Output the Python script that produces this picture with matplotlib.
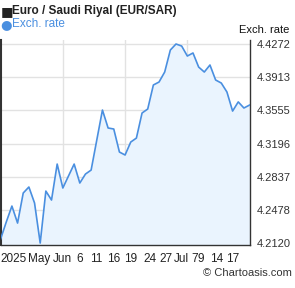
import numpy as np
import matplotlib
matplotlib.use("Agg")
import matplotlib.pyplot as plt

# EUR/SAR daily rates
rates = [4.2163, 4.2347, 4.2520, 4.2336, 4.2661, 4.2726, 4.2553, 4.2120, 4.2682, 4.2585,
         4.2974, 4.2715, 4.2845, 4.2974, 4.2769, 4.2866, 4.2909, 4.3234, 4.3558, 4.3364,
         4.3353, 4.3104, 4.3072, 4.3212, 4.3255, 4.3526, 4.3569, 4.3829, 4.3861, 4.3969,
         4.4207, 4.4272, 4.4250, 4.4142, 4.4175, 4.4023, 4.3969, 4.4045, 4.3883, 4.3850,
         4.3753, 4.3547, 4.3646, 4.3580, 4.3612]
xtick_pos = [2.3, 6.8, 10.9, 13.9, 16.9, 19.9, 22.9, 26.4, 29.3, 31.9, 34.3, 35.4, 38.2, 41.1]
xtick_labels = ['2025', 'May', 'Jun', '6', '11', '16', '19', '24', '27', 'Jul', '7', '9', '14', '17']
ytick_vals = [4.2120, 4.2478, 4.2837, 4.3196, 4.3555, 4.3913, 4.4272]

line_col = '#4a8fe0'
fill_col = '#eaf4fe'
grid_col = '#e2e2e2'
text_col = '#333333'

plt.rcParams['font.family'] = ['Liberation Sans', 'DejaVu Sans']

fig = plt.figure(figsize=(2.95, 2.88), dpi=100)
ax = fig.add_axes([0.002, 0.149, 0.844, 0.712])

x = np.arange(len(rates))
ymin, ymax = 4.2098, 4.4315
ax.fill_between(x, rates, ymin, color=fill_col, lw=0, zorder=1)
ax.plot(x, rates, color=line_col, lw=1.2, zorder=3)

ax.set_xlim(0, len(rates) - 1)
ax.set_ylim(ymin, ymax)

# grid
for v in ytick_vals:
    ax.axhline(v, color=grid_col, lw=1.0, zorder=0)
for f in (0.25, 0.5, 0.75):
    ax.plot([f, f], [0, 1], transform=ax.transAxes, color=grid_col, lw=1.0, zorder=0)

ax.yaxis.tick_right()
ax.set_yticks(ytick_vals)
ax.set_yticklabels(['%.4f' % v for v in ytick_vals])
ax.set_xticks(xtick_pos)
ax.set_xticklabels(xtick_labels)
ax.tick_params(axis='y', length=0, pad=5, labelsize=8, colors=text_col)
ax.tick_params(axis='x', length=0, pad=6, labelsize=8.5, colors='#222222')

ax.spines['top'].set_visible(False)
for s in ('left', 'right', 'bottom'):
    ax.spines[s].set_color('#333333')
    ax.spines[s].set_linewidth(1.0)
ax.spines['left'].set_linewidth(1.5)

# header
fig.text(0.003, 0.961, '\u25a0', fontsize=9.5, color='#222222', va='center', ha='left',
         family='DejaVu Sans')
fig.text(0.041, 0.961, 'Euro / Saudi Riyal (EUR/SAR)', fontsize=8.5, fontweight='bold',
         color='#222222', va='center', ha='left')
fig.text(0.0, 0.916, '\u25cf', fontsize=9.5, color=line_col, va='center', ha='left',
         family='DejaVu Sans')
fig.text(0.041, 0.916, 'Exch. rate', fontsize=8.5, color=line_col, va='center', ha='left')
fig.text(0.81, 0.897, 'Exch. rate', fontsize=8, color='#111111', va='center', ha='left')
fig.text(0.99, 0.052, '\u00a9 Chartoasis.com', fontsize=8, color='#333333', va='center', ha='right')

fig.savefig('out.png', dpi=100, facecolor='white')
